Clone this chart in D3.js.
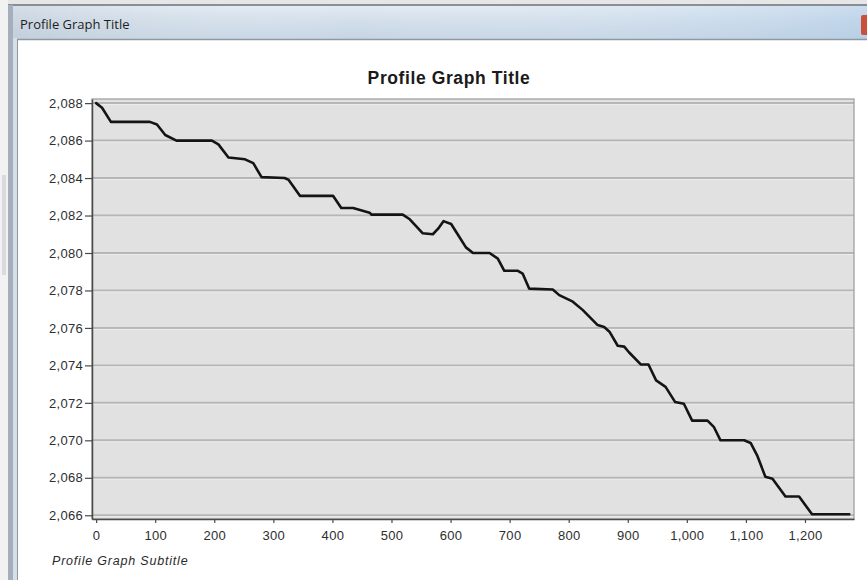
<!DOCTYPE html>
<html>
<head>
<meta charset="utf-8">
<script src="https://cdn.jsdelivr.net/npm/d3@7"></script>
<style>
  html, body { margin: 0; padding: 0; background: #ffffff; }
  svg { display: block; }
</style>
</head>
<body>
<svg id="chart" width="867" height="580"></svg>
<script>
// ---- Data ----
const windowTitle = "Profile Graph Title";
const chartTitle = "Profile Graph Title";
const chartSubtitle = "Profile Graph Subtitle";

const distance = [0, 10, 25, 91, 103, 117, 136, 196, 207, 224, 252, 266, 280, 319, 326, 345, 401, 415, 435, 463, 466, 519, 531, 553, 570, 579, 588, 601, 612, 626, 638, 666, 680, 691, 714, 722, 733, 773, 784, 807, 824, 849, 860, 869, 883, 894, 902, 922, 935, 948, 964, 980, 995, 1009, 1035, 1046, 1057, 1097, 1108, 1119, 1133, 1145, 1167, 1190, 1212, 1275];
const elevation = [2088, 2087.75, 2087, 2087, 2086.86, 2086.3, 2086, 2086, 2085.8, 2085.1, 2085, 2084.8, 2084.05, 2084, 2083.9, 2083.05, 2083.05, 2082.4, 2082.4, 2082.15, 2082.05, 2082.05, 2081.8, 2081.05, 2081, 2081.3, 2081.7, 2081.55, 2081, 2080.3, 2080, 2080, 2079.7, 2079.05, 2079.05, 2078.9, 2078.1, 2078.05, 2077.75, 2077.4, 2076.95, 2076.15, 2076.05, 2075.8, 2075.05, 2075, 2074.7, 2074.05, 2074.05, 2073.2, 2072.85, 2072.05, 2071.95, 2071.05, 2071.05, 2070.7, 2070, 2070, 2069.86, 2069.2, 2068.05, 2067.95, 2067, 2067, 2066.05, 2066.05];

const xTicks = [0, 100, 200, 300, 400, 500, 600, 700, 800, 900, 1000, 1100, 1200];
const yTicks = [2066, 2068, 2070, 2072, 2074, 2076, 2078, 2080, 2082, 2084, 2086, 2088];
const xDomain = [-7, 1283];
const yDomain = [2065.8, 2088.22];

// ---- Layout ----
const plot = { left: 92, right: 854, top: 99, bottom: 519 };
const svg = d3.select("#chart");

// ---- Window chrome ----
const defs = svg.append("defs");
const tg = defs.append("linearGradient").attr("id", "titlebar").attr("x1", 0).attr("y1", 0).attr("x2", 0).attr("y2", 1);
tg.append("stop").attr("offset", "0%").attr("stop-color", "#e3ebf3");
tg.append("stop").attr("offset", "45%").attr("stop-color", "#d3dfeb");
tg.append("stop").attr("offset", "100%").attr("stop-color", "#c6d5e4");
const tgh = defs.append("linearGradient").attr("id", "titlebarH").attr("x1", 0).attr("y1", 0).attr("x2", 1).attr("y2", 0);
tgh.append("stop").attr("offset", "0%").attr("stop-color", "#b9c3cc").attr("stop-opacity", 0.35);
tgh.append("stop").attr("offset", "40%").attr("stop-color", "#ffffff").attr("stop-opacity", 0);
tgh.append("stop").attr("offset", "100%").attr("stop-color", "#9cc2e6").attr("stop-opacity", 0.35);

svg.append("rect").attr("x", 0).attr("y", 0).attr("width", 867).attr("height", 580).attr("fill", "#ffffff");
svg.append("rect").attr("x", 0).attr("y", 0).attr("width", 867).attr("height", 5).attr("fill", "#e6e6e6");
svg.append("rect").attr("x", 0).attr("y", 0).attr("width", 8).attr("height", 580).attr("fill", "#f2f2f2");
svg.append("rect").attr("x", 2).attr("y", 175).attr("width", 4).attr("height", 100).attr("fill", "#d8dadd");
svg.append("rect").attr("x", 8).attr("y", 5).attr("width", 859).attr("height", 34).attr("fill", "url(#titlebar)");
svg.append("rect").attr("x", 8).attr("y", 5).attr("width", 859).attr("height", 34).attr("fill", "url(#titlebarH)");
svg.append("line").attr("x1", 8).attr("x2", 867).attr("y1", 5).attr("y2", 5).attr("stroke", "#6c7278").attr("stroke-width", 1.5);
svg.append("rect").attr("x", 8).attr("y", 5).attr("width", 5).attr("height", 575).attr("fill", "#a4afbb");
svg.append("rect").attr("x", 13).attr("y", 38).attr("width", 4).attr("height", 542).attr("fill", "#d6dfe8");
svg.append("line").attr("x1", 17.5).attr("x2", 17.5).attr("y1", 39).attr("y2", 580).attr("stroke", "#8e969e").attr("stroke-width", 1);
svg.append("line").attr("x1", 17).attr("x2", 867).attr("y1", 39.5).attr("y2", 39.5).attr("stroke", "#8f979f").attr("stroke-width", 1.5);
svg.append("rect").attr("x", 861).attr("y", 15).attr("width", 8).attr("height", 20).attr("rx", 2).attr("fill", "#c8503c");

svg.append("text")
  .attr("x", 20).attr("y", 29)
  .attr("font-family", "'Open Sans', 'Noto Sans', sans-serif")
  .attr("font-size", 13)
  .attr("fill", "#1e1e1e")
  .text(windowTitle);

// ---- Scales ----
const x = d3.scaleLinear().domain(xDomain).range([plot.left, plot.right]);
const y = d3.scaleLinear().domain(yDomain).range([plot.bottom, plot.top]);

// ---- Plot background ----
svg.append("rect")
  .attr("x", plot.left).attr("y", plot.top)
  .attr("width", plot.right - plot.left).attr("height", plot.bottom - plot.top)
  .attr("fill", "#e1e1e1");

const grid = svg.append("g");
grid.selectAll("line.g1").data(yTicks).join("line")
  .attr("class", "g1")
  .attr("x1", plot.left).attr("x2", plot.right)
  .attr("y1", d => y(d)).attr("y2", d => y(d))
  .attr("stroke", "#b6b6b6").attr("stroke-width", 2);
grid.selectAll("line.g2").data(yTicks).join("line")
  .attr("class", "g2")
  .attr("x1", plot.left).attr("x2", plot.right)
  .attr("y1", d => y(d) + 1.5).attr("y2", d => y(d) + 1.5)
  .attr("stroke", "#ececec").attr("stroke-width", 1);

svg.append("rect")
  .attr("x", plot.left).attr("y", plot.top)
  .attr("width", plot.right - plot.left).attr("height", plot.bottom - plot.top)
  .attr("fill", "none").attr("stroke", "#9a9a9a").attr("stroke-width", 1.2);

// ---- Axes ----
const fontAxis = "'Liberation Sans', Arial, sans-serif";
const fmt = d3.format(",");

const yAxis = d3.axisLeft(y).tickValues(yTicks).tickFormat(fmt).tickSize(7).tickSizeOuter(0).tickPadding(2);
const gy = svg.append("g").attr("transform", `translate(${plot.left},0)`).call(yAxis);
gy.select(".domain").attr("stroke", "#4a4a4a").attr("stroke-width", 1.5);
gy.selectAll(".tick line").attr("stroke", "#4a4a4a").attr("stroke-width", 1.2);
gy.selectAll(".tick text")
  .attr("font-family", fontAxis).attr("font-size", 13)
  .attr("fill", "#2e2e2e").attr("letter-spacing", "0.3px");

const xAxis = d3.axisBottom(x).tickValues(xTicks).tickFormat(fmt).tickSize(4).tickSizeOuter(0).tickPadding(8);
const gx = svg.append("g").attr("transform", `translate(0,${plot.bottom})`).call(xAxis);
gx.select(".domain").attr("stroke", "#4a4a4a").attr("stroke-width", 1.5);
gx.selectAll(".tick line").attr("stroke", "#4a4a4a").attr("stroke-width", 1.2);
gx.selectAll(".tick text")
  .attr("font-family", fontAxis).attr("font-size", 13)
  .attr("fill", "#2e2e2e").attr("letter-spacing", "0.3px");

// ---- Profile line ----
const pts = distance.map((d, i) => [d, elevation[i]]);
const line = d3.line().x(d => x(d[0])).y(d => y(d[1])).curve(d3.curveLinear);
svg.append("path")
  .datum(pts)
  .attr("d", line)
  .attr("fill", "none")
  .attr("stroke", "#141414")
  .attr("stroke-width", 2.6)
  .attr("stroke-linejoin", "round")
  .attr("stroke-linecap", "round");

// ---- Titles ----
svg.append("text")
  .attr("x", (plot.left + plot.right) / 2 - 24).attr("y", 84)
  .attr("text-anchor", "middle")
  .attr("font-family", fontAxis).attr("font-weight", "bold")
  .attr("font-size", 17.5).attr("letter-spacing", "0.6px")
  .attr("fill", "#1a1a1a")
  .text(chartTitle);

svg.append("text")
  .attr("x", 52).attr("y", 565)
  .attr("font-family", fontAxis).attr("font-style", "italic")
  .attr("font-size", 12.5).attr("letter-spacing", "0.8px")
  .attr("fill", "#2a2a2a")
  .text(chartSubtitle);
</script>
</body>
</html>
